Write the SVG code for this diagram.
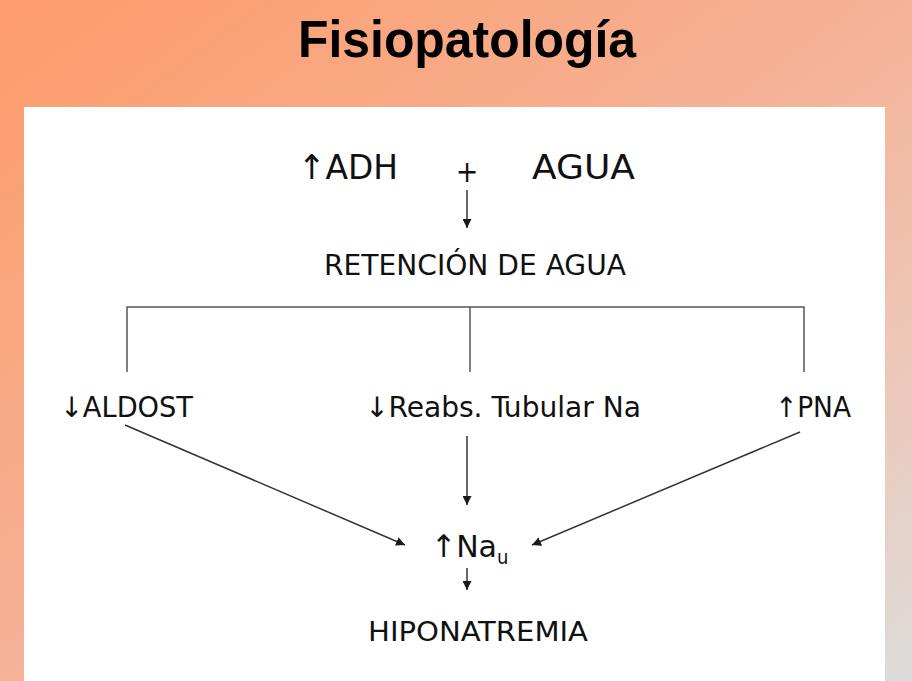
<svg xmlns="http://www.w3.org/2000/svg" width="912" height="681" viewBox="0 0 912 681">
<defs>
<linearGradient id="bg" x1="0" y1="0" x2="1" y2="1">
<stop offset="0" stop-color="#FD9C6A"/>
<stop offset="0.5" stop-color="#F5B297"/>
<stop offset="0.8" stop-color="#EBCBBE"/>
<stop offset="1" stop-color="#DCDCDA"/>
</linearGradient>
<marker id="ah" viewBox="0 0 10 10" refX="10" refY="5" markerWidth="9" markerHeight="9" markerUnits="userSpaceOnUse" orient="auto">
<path d="M0,0 L10,5 L0,10 z" fill="#1a1a1a"/>
</marker>
<style>
.t{font-family:"DejaVu Sans Condensed","DejaVu Sans",Verdana,sans-serif;fill:#111}
.ttl{font-family:"Liberation Sans",Arial,sans-serif;font-weight:bold;fill:#000}
.ln{stroke:#555;stroke-width:1.5;fill:none}
.ar{stroke:#333;stroke-width:1.5;fill:none;marker-end:url(#ah)}
</style>
</defs>
<rect x="0" y="0" width="912" height="681" fill="url(#bg)"/>
<rect x="24" y="107" width="861" height="574" fill="#fff"/>
<text class="ttl" x="298" y="57" font-size="52" textLength="338" lengthAdjust="spacingAndGlyphs">Fisiopatología</text>

<g id="adh"><text class="t" x="298" y="179" font-size="34" textLength="100" lengthAdjust="spacingAndGlyphs">↑ADH</text></g>
<g id="plus"><text class="t" x="467" y="182" font-size="30" text-anchor="middle">+</text></g>
<g id="agua"><text class="t" x="532" y="179" font-size="34" textLength="103" lengthAdjust="spacingAndGlyphs">AGUA</text></g>
<g id="retencion"><text class="t" x="324" y="275" font-size="28" textLength="302" lengthAdjust="spacingAndGlyphs">RETENCIÓN DE AGUA</text></g>
<g id="aldost"><text class="t" x="60" y="417" font-size="28" textLength="133" lengthAdjust="spacingAndGlyphs">↓ALDOST</text></g>
<g id="reabs"><text class="t" x="365" y="417" font-size="28" textLength="276" lengthAdjust="spacingAndGlyphs">↓Reabs. Tubular Na</text></g>
<g id="pna"><text class="t" x="775" y="417" font-size="28" textLength="76" lengthAdjust="spacingAndGlyphs">↑PNA</text></g>
<g id="nau"><text class="t" x="431" y="557" font-size="31"><tspan textLength="66" lengthAdjust="spacingAndGlyphs">↑Na</tspan><tspan font-size="20" dy="7">u</tspan></text></g>
<g id="hiponatremia"><text class="t" x="368" y="641" font-size="27" textLength="220" lengthAdjust="spacingAndGlyphs">HIPONATREMIA</text></g>

<g id="connectors">
<line class="ar" x1="467" y1="190" x2="467" y2="228"/>
<path class="ln" d="M127,372 V307 H804 V372 M470,307 V372"/>
<line class="ar" x1="125" y1="425" x2="405" y2="545"/>
<line class="ar" x1="467" y1="436" x2="467" y2="505"/>
<line class="ar" x1="800" y1="432" x2="532" y2="545"/>
<line class="ar" x1="467" y1="568" x2="467" y2="590"/>
</g>
</svg>
